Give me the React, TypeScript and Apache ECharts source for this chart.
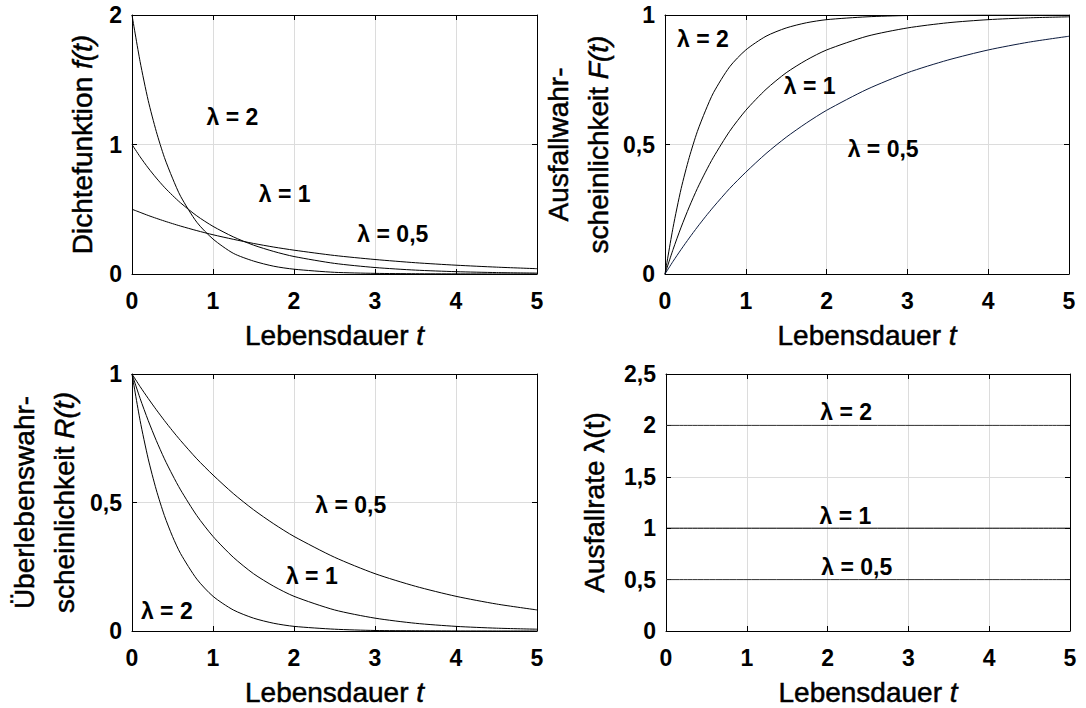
import React, { useEffect, useRef } from "react";
import * as echarts from "echarts";

// Lebensdauer t (sample points)
const tValues = [0, 0.1, 0.2, 0.3, 0.4, 0.5, 0.6, 0.8, 1, 1.25, 1.5, 1.75, 2, 2.5, 3, 3.5, 4, 4.5, 5];

// Dichtefunktion f(t)
const densityL2 = [2, 1.64, 1.34, 1.1, 0.9, 0.74, 0.6, 0.4, 0.27, 0.16, 0.1, 0.06, 0.037, 0.013, 0.005, 0.002, 0.001, 0.0003, 0.0001];
const densityL1 = [1, 0.905, 0.819, 0.741, 0.67, 0.607, 0.549, 0.449, 0.368, 0.287, 0.223, 0.174, 0.135, 0.082, 0.05, 0.03, 0.018, 0.011, 0.007];
const densityL05 = [0.5, 0.476, 0.452, 0.43, 0.409, 0.389, 0.37, 0.335, 0.303, 0.268, 0.236, 0.208, 0.184, 0.143, 0.112, 0.087, 0.068, 0.053, 0.041];

// Ausfallwahrscheinlichkeit F(t)
const cdfL2 = [0, 0.18, 0.33, 0.45, 0.55, 0.63, 0.7, 0.8, 0.865, 0.918, 0.95, 0.97, 0.982, 0.993, 0.998, 0.999, 1, 1, 1];
const cdfL1 = [0, 0.095, 0.181, 0.259, 0.33, 0.393, 0.451, 0.551, 0.632, 0.713, 0.777, 0.826, 0.865, 0.918, 0.95, 0.97, 0.982, 0.989, 0.993];
const cdfL05 = [0, 0.049, 0.095, 0.139, 0.181, 0.221, 0.259, 0.33, 0.393, 0.465, 0.528, 0.583, 0.632, 0.713, 0.777, 0.826, 0.865, 0.895, 0.918];

// Überlebenswahrscheinlichkeit R(t)
const survL2 = [1, 0.819, 0.67, 0.549, 0.449, 0.368, 0.301, 0.202, 0.135, 0.082, 0.05, 0.03, 0.018, 0.007, 0.002, 0.001, 0.0003, 0.0001, 0];
const survL1 = [1, 0.905, 0.819, 0.741, 0.67, 0.607, 0.549, 0.449, 0.368, 0.287, 0.223, 0.174, 0.135, 0.082, 0.05, 0.03, 0.018, 0.011, 0.007];
const survL05 = [1, 0.951, 0.905, 0.861, 0.819, 0.779, 0.741, 0.67, 0.607, 0.535, 0.472, 0.417, 0.368, 0.287, 0.223, 0.174, 0.135, 0.105, 0.082];

// Ausfallrate λ(t)
const hazardT = [0, 5];
const hazardL2 = [2, 2];
const hazardL1 = [1, 1];
const hazardL05 = [0.5, 0.5];

// Curve annotations
const curveLabels = ["λ = 2", "λ = 1", "λ = 0,5"];
const densityLabelAt = [[1.24, 1.215], [1.885, 0.62], [3.22, 0.31]];
const cdfLabelAt = [[0.47, 0.907], [1.79, 0.727], [2.7, 0.483]];
const survLabelAt = [[0.43, 0.078], [2.22, 0.214], [2.7, 0.49]];
const hazardLabelAt = [[2.23, 2.13], [2.22, 1.12], [2.36, 0.62]];

// Axis ranges
const xRange = { min: 0, max: 5, interval: 1 };
const yRanges = [
  { min: 0, max: 2, interval: 1 },
  { min: 0, max: 1, interval: 0.5 },
  { min: 0, max: 1, interval: 0.5 },
  { min: 0, max: 2.5, interval: 0.5 },
];

const FONT = "Liberation Sans, Arial, sans-serif";

const fmt = (v: number) => String(v).replace(".", ",");

const heavy = { textBorderColor: "#000", textBorderWidth: 0.5 };
const richItalic = { i: { fontStyle: "italic", fontSize: 28, fontFamily: FONT, color: "#000", ...heavy } };

export default function App() {
  const ref = useRef<HTMLDivElement>(null);

  useEffect(() => {
    document.body.style.margin = "0";
    if (!ref.current) return;
    const chart = echarts.init(ref.current, undefined, { renderer: "svg" });

    const grids = [
      { left: 132, top: 15, width: 405, height: 259 },
      { left: 665, top: 15, width: 404, height: 259 },
      { left: 132, top: 374, width: 405, height: 257 },
      { left: 666, top: 374, width: 404, height: 257 },
    ];

    const yNames = [
      "Dichtefunktion {i|f(t)}",
      "Ausfallwahr-\nscheinlichkeit {i|F(t)}",
      "Überlebenswahr-\nscheinlichkeit {i|R(t)}",
      "Ausfallrate λ(t)",
    ];
    const yNameGaps = [30, 47, 48, 52];

    const xAxes: any[] = [];
    const yAxes: any[] = [];
    grids.forEach((_, g) => {
      xAxes.push({
        type: "value",
        gridIndex: g,
        ...xRange,
        position: "bottom",
        name: "Lebensdauer {i|t}",
        nameLocation: "middle",
        nameGap: 47,
        nameTextStyle: { fontSize: 28, fontFamily: FONT, color: "#000", ...heavy, rich: richItalic },
        axisLine: { show: true, onZero: false, lineStyle: { color: "#000", width: 1 } },
        axisTick: { show: true, inside: true, length: 5, lineStyle: { color: "#000" } },
        axisLabel: { fontSize: 23, fontWeight: "bold", fontFamily: FONT, color: "#000", margin: 15, formatter: fmt },
        splitLine: { show: true, lineStyle: { color: "#dcdcdc", width: 1 } },
      });
      xAxes.push({
        type: "value",
        gridIndex: g,
        ...xRange,
        position: "top",
        axisLine: { show: true, onZero: false, lineStyle: { color: "#000", width: 1 } },
        axisTick: { show: true, inside: true, length: 5, lineStyle: { color: "#000" } },
        axisLabel: { show: false },
        splitLine: { show: false },
      });
      yAxes.push({
        type: "value",
        gridIndex: g,
        ...yRanges[g],
        position: "left",
        name: yNames[g],
        nameLocation: "middle",
        nameRotate: 90,
        nameGap: yNameGaps[g],
        nameTextStyle: {
          fontSize: 28,
          fontFamily: FONT,
          color: "#000",
          lineHeight: 40,
          ...heavy,
          rich: { i: { ...richItalic.i, lineHeight: 40 } },
        },
        axisLine: { show: true, onZero: false, lineStyle: { color: "#000", width: 1 } },
        axisTick: { show: true, inside: true, length: 5, lineStyle: { color: "#000" } },
        axisLabel: { fontSize: 23, fontWeight: "bold", fontFamily: FONT, color: "#000", margin: 10, formatter: fmt },
        splitLine: { show: true, lineStyle: { color: "#dcdcdc", width: 1 } },
      });
      yAxes.push({
        type: "value",
        gridIndex: g,
        ...yRanges[g],
        position: "right",
        axisLine: { show: true, onZero: false, lineStyle: { color: "#000", width: 1 } },
        axisTick: { show: true, inside: true, length: 5, lineStyle: { color: "#000" } },
        axisLabel: { show: false },
        splitLine: { show: false },
      });
    });

    const line = (g: number, xs: number[], ys: number[], color = "#000") => ({
      type: "line",
      xAxisIndex: 2 * g,
      yAxisIndex: 2 * g,
      data: xs.map((t, i) => [t, ys[i]]),
      smooth: 0.25,
      showSymbol: false,
      symbol: "none",
      lineStyle: { color, width: 1 },
      z: 3,
    });

    const labels = (g: number, at: number[][]) => ({
      type: "scatter",
      xAxisIndex: 2 * g,
      yAxisIndex: 2 * g,
      symbolSize: 0,
      data: at,
      itemStyle: { color: "transparent", opacity: 1 },
      label: {
        show: true,
        position: "inside",
        formatter: (p: any) => curveLabels[p.dataIndex],
        fontSize: 23,
        fontWeight: "bold",
        fontFamily: FONT,
        color: "#000",
        opacity: 1,
        textBorderWidth: 0,
        align: "center",
        verticalAlign: "middle",
      },
      z: 5,
    });

    chart.setOption({
      animation: false,
      backgroundColor: "#fff",
      grid: grids.map((g) => ({ ...g, show: false })),
      xAxis: xAxes,
      yAxis: yAxes,
      series: [
        line(0, tValues, densityL2),
        line(0, tValues, densityL1),
        line(0, tValues, densityL05),
        labels(0, densityLabelAt),
        line(1, tValues, cdfL2),
        line(1, tValues, cdfL1),
        line(1, tValues, cdfL05, "#0b1a3d"),
        labels(1, cdfLabelAt),
        line(2, tValues, survL2),
        line(2, tValues, survL1),
        line(2, tValues, survL05),
        labels(2, survLabelAt),
        line(3, hazardT, hazardL2, "#333"),
        line(3, hazardT, hazardL1, "#000"),
        line(3, hazardT, hazardL05, "#333"),
        labels(3, hazardLabelAt),
      ],
    });

    return () => chart.dispose();
  }, []);

  return <div ref={ref} style={{ width: 1086, height: 708 }} />;
}
